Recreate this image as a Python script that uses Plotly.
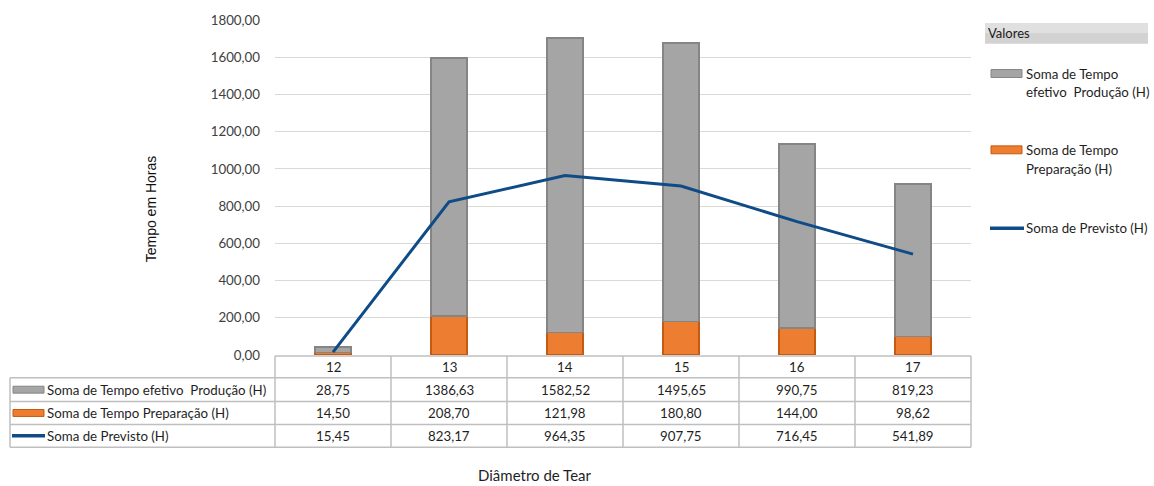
import plotly.graph_objects as go

categories = ["12", "13", "14", "15", "16", "17"]
efetivo = [28.75, 1386.63, 1582.52, 1495.65, 990.75, 819.23]
preparacao = [14.50, 208.70, 121.98, 180.80, 144.00, 98.62]
previsto = [15.45, 823.17, 964.35, 907.75, 716.45, 541.89]
series_names = ["Soma de Tempo efetivo  Produção (H)",
                "Soma de Tempo Preparação (H)",
                "Soma de Previsto (H)"]
legend_labels = [["Soma de Tempo", "efetivo  Produção (H)"],
                 ["Soma de Tempo", "Preparação (H)"],
                 ["Soma de Previsto (H)"]]

W, H = 1154, 486
L, R, T, B = 275, 971, 17, 355
PW, PH = R - L, B - T

GRAY, GRAY_EDGE = "#a5a5a5", "#858585"
ORANGE, ORANGE_EDGE = "#ed7d31", "#c55a11"
BLUE = "#0f4c87"
GRID = "#d9d9d9"
TBL = "#bfbfbf"
TXT = "#1f1f1f"
FONT = "Lato"
FS = 13.3

def px(x):
    return (x - L) / PW

def py(y):
    return (B - y) / PH

def fmt(v):
    return f"{v:.2f}".replace(".", ",")

def ann(x, y, text, xref="paper", xanchor="center", yanchor="middle", size=FS,
        family=FONT, color=TXT, **kw):
    return dict(x=x, xref=xref, y=y, yref="paper", text=text, showarrow=False,
                xanchor=xanchor, yanchor=yanchor,
                font=dict(family=family, size=size, color=color), **kw)

fig = go.Figure()
fig.add_trace(go.Bar(x=categories, y=preparacao, name=series_names[1], width=0.31,
                     marker=dict(color=ORANGE, line=dict(color=ORANGE_EDGE, width=1.5))))
fig.add_trace(go.Bar(x=categories, y=efetivo, name=series_names[0], width=0.31,
                     marker=dict(color=GRAY, line=dict(color=GRAY_EDGE, width=1.5))))
fig.add_trace(go.Scatter(x=categories, y=previsto, name=series_names[2], mode="lines",
                         line=dict(color=BLUE, width=3)))

shapes = []
annotations = []

# table grid
rows_y = [356, 378, 402, 425, 448]
col_x = [L + i * PW / 6 for i in range(7)]
line = dict(color=TBL, width=1.5)
shapes.append(dict(type="line", xref="paper", yref="paper", x0=px(L), x1=px(R),
                   y0=py(rows_y[0]), y1=py(rows_y[0]), line=line))
for yy in rows_y[1:]:
    shapes.append(dict(type="line", xref="paper", yref="paper", x0=px(10), x1=px(R),
                       y0=py(yy), y1=py(yy), line=line))
for xx in col_x:
    shapes.append(dict(type="line", xref="paper", yref="paper", x0=px(xx), x1=px(xx),
                       y0=py(rows_y[0]), y1=py(rows_y[-1]), line=line))
shapes.append(dict(type="line", xref="paper", yref="paper", x0=px(10), x1=px(10),
                   y0=py(rows_y[1]), y1=py(rows_y[-1]), line=line))

# header row (category index on the x axis)
for i, c in enumerate(categories):
    annotations.append(ann(i, py((rows_y[0] + rows_y[1]) / 2), c, xref="x"))

row_values = [efetivo, preparacao, previsto]
swatch_colors = [(GRAY, GRAY_EDGE), (ORANGE, ORANGE_EDGE), (BLUE, BLUE)]
for r in range(3):
    yc = (rows_y[r + 1] + rows_y[r + 2]) / 2
    for i, v in enumerate(row_values[r]):
        annotations.append(ann(i, py(yc), fmt(v), xref="x"))
    annotations.append(ann(px(45), py(yc), series_names[r], xanchor="left"))
    fc, ec = swatch_colors[r]
    if r < 2:
        shapes.append(dict(type="rect", xref="paper", yref="paper", x0=px(13), x1=px(44),
                           y0=py(yc - 3.5), y1=py(yc + 3.5), fillcolor=fc,
                           line=dict(color=ec, width=1)))
    else:
        shapes.append(dict(type="line", xref="paper", yref="paper", x0=px(12), x1=px(45),
                           y0=py(yc), y1=py(yc), line=dict(color=BLUE, width=3.5)))

# right legend
shapes.append(dict(type="rect", xref="paper", yref="paper", x0=px(985), x1=px(1148),
                   y0=py(41), y1=py(20), fillcolor="#d2d2d2", line=dict(width=0)))
shapes.append(dict(type="rect", xref="paper", yref="paper", x0=px(985), x1=px(1148),
                   y0=py(30), y1=py(20), fillcolor="#e0e0e0", line=dict(width=0)))
annotations.append(ann(px(986), py(30.5), "Valores", xanchor="left", size=13, color="#1a1a1a"))
leg_y = [71, 148, 227]
for r in range(3):
    yc = leg_y[r]
    fc, ec = swatch_colors[r]
    if r < 2:
        shapes.append(dict(type="rect", xref="paper", yref="paper", x0=px(991), x1=px(1022),
                           y0=py(yc - 4), y1=py(yc + 4), fillcolor=fc,
                           line=dict(color=ec, width=1)))
    else:
        shapes.append(dict(type="line", xref="paper", yref="paper", x0=px(990), x1=px(1024),
                           y0=py(yc), y1=py(yc), line=dict(color=BLUE, width=3.5)))
    for k, txt in enumerate(legend_labels[r]):
        annotations.append(ann(px(1024), py(yc + 19 * k), txt, xanchor="left"))

# axis titles
annotations.append(ann(px(151), py(208), "Tempo em Horas", textangle=-90,
                       family="Liberation Sans", size=14, color="#111111"))
annotations.append(ann(px(535), py(476), "Diâmetro de Tear", size=15))

fig.update_layout(
    width=W, height=H, autosize=False,
    margin=dict(l=L, r=W - R, t=T, b=H - B, pad=0),
    barmode="stack", showlegend=False,
    plot_bgcolor="white", paper_bgcolor="white",
    separators=",.",
    shapes=shapes, annotations=annotations,
    xaxis=dict(type="category", range=[-0.5, 5.5], showticklabels=False, showgrid=False,
               showline=False, zeroline=False, fixedrange=True),
    yaxis=dict(range=[0, 1800], dtick=200, tickformat=".2f", showgrid=True, gridcolor=GRID,
               gridwidth=1.2, zeroline=False, showline=False, ticklabelstandoff=14,
               tickfont=dict(family=FONT, size=FS, color="#404040")),
)
fig.write_html("out.html")
